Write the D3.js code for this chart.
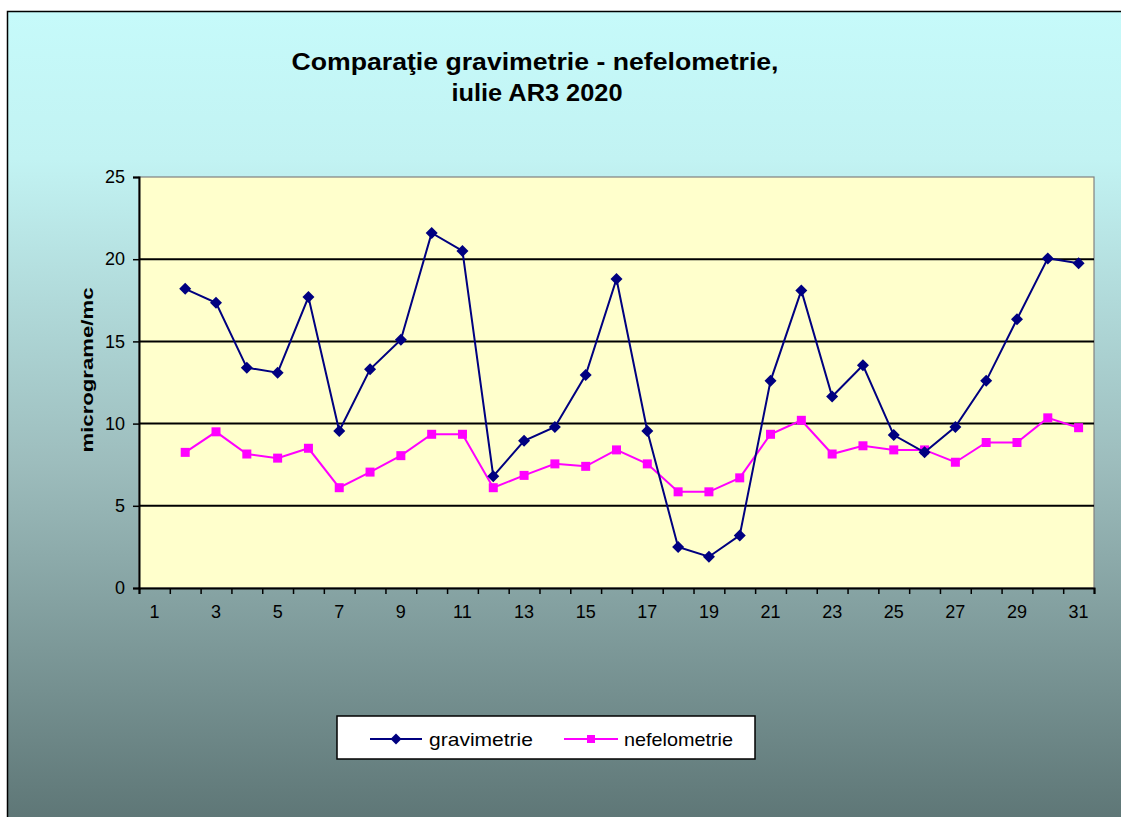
<!DOCTYPE html>
<html><head><meta charset="utf-8">
<script src="https://cdn.jsdelivr.net/npm/d3@7"></script>
<style>body{margin:0;background:#fff}svg{display:block;font-family:"Liberation Sans",Arial,sans-serif}</style>
</head><body><svg id="c" width="1121" height="817"></svg>
<script>
const days = d3.range(1, 32);
const xTickLabels = [1,3,5,7,9,11,13,15,17,19,21,23,25,27,29,31];
const yTicks = [0,5,10,15,20,25];
const gravDays = d3.range(2, 32);
const gravimetrie = [18.2,17.35,13.4,13.1,17.7,9.55,13.3,15.1,21.6,20.5,6.8,8.95,9.8,12.95,18.8,9.55,2.5,1.9,3.2,12.6,18.1,11.65,13.55,9.3,8.25,9.8,12.6,16.35,20.05,19.75];
const nefelometrie = [8.25,9.5,8.15,7.9,8.5,6.1,7.05,8.05,9.35,9.35,6.1,6.85,7.55,7.4,8.4,7.55,5.85,5.85,6.7,9.35,10.2,8.15,8.65,8.4,8.4,7.65,8.85,8.85,10.35,9.75];
const seriesNames = ["gravimetrie","nefelometrie"];
const title1 = "Comparaţie gravimetrie - nefelometrie,";
const title2 = "iulie AR3 2020";
const yLabel = "micrograme/mc";

const svg = d3.select("#c");
const defs = svg.append("defs");
const grad = defs.append("linearGradient").attr("id","bg").attr("x1",0).attr("y1",0).attr("x2",0).attr("y2",1);
grad.append("stop").attr("offset","0%").attr("stop-color","#c6fafa");
grad.append("stop").attr("offset","18%").attr("stop-color","#c2f3f3");
grad.append("stop").attr("offset","55%").attr("stop-color","#9dbdbd");
grad.append("stop").attr("offset","100%").attr("stop-color","#5c7474");

svg.append("rect").attr("x",7.5).attr("y",11.5).attr("width",1125).attr("height",820)
  .attr("fill","url(#bg)").attr("stroke","#000").attr("stroke-width",1.5);

const L=139, R=1094, T=177, B=588;
const x = d3.scaleBand().domain(days).range([L,R]).padding(0);
const xEdge = d3.scaleLinear().domain([0.5,31.5]).range([L,R]);
const y = d3.scaleLinear().domain([0,25]).range([B,T]);

svg.append("rect").attr("x",L).attr("y",T).attr("width",R-L).attr("height",B-T)
  .attr("fill","#ffffcc").attr("stroke","#808080").attr("stroke-width",1.2);

// gridlines
svg.append("g").selectAll("line").data(yTicks.filter(d=>d>0 && d<25)).join("line")
  .attr("x1",L).attr("x2",R).attr("y1",d=>y(d)).attr("y2",d=>y(d))
  .attr("stroke","#000").attr("stroke-width",2);

// y axis
const gy = svg.append("g").attr("transform",`translate(${L},0)`)
  .call(d3.axisLeft(y).tickValues(yTicks).tickSize(6).tickPadding(8));
gy.select(".domain").attr("stroke","#000").attr("stroke-width",2);
gy.selectAll(".tick line").attr("stroke","#000").attr("stroke-width",1.5);
gy.selectAll("text").attr("font-size",18).attr("fill","#000").attr("font-family","Liberation Sans, Arial, sans-serif");

// x axis ticks at category boundaries
const gx = svg.append("g").attr("transform",`translate(0,${B})`)
  .call(d3.axisBottom(xEdge).tickValues(d3.range(0.5,32,1)).tickSize(6).tickFormat(""));
gx.select(".domain").attr("stroke","#000").attr("stroke-width",2);
gx.selectAll(".tick line").attr("stroke","#000").attr("stroke-width",1.5);
// x labels
const gxl = svg.append("g").attr("transform",`translate(0,${B})`)
  .call(d3.axisBottom(x).tickValues(xTickLabels).tickSize(0).tickPadding(17));
gxl.select(".domain").remove();
gxl.selectAll("text").attr("font-size",18).attr("fill","#000").attr("font-family","Liberation Sans, Arial, sans-serif");

const cx = d => x(d) + x.bandwidth()/2;
const line = d3.line().x(d=>cx(d[0])).y(d=>y(d[1]));
const gData = gravDays.map((d,i)=>[d,gravimetrie[i]]);
const nData = gravDays.map((d,i)=>[d,nefelometrie[i]]);

svg.append("path").datum(nData).attr("d",line).attr("fill","none").attr("stroke","#ff00ff").attr("stroke-width",2);
svg.append("g").selectAll("rect").data(nData).join("rect")
  .attr("x",d=>cx(d[0])-4.5).attr("y",d=>y(d[1])-4.5).attr("width",9).attr("height",9).attr("fill","#ff00ff");

svg.append("path").datum(gData).attr("d",line).attr("fill","none").attr("stroke","#000080").attr("stroke-width",2);
const dia = r => `M0,${-r}L${r},0L0,${r}L${-r},0Z`;
svg.append("g").selectAll("path").data(gData).join("path")
  .attr("d",dia(6)).attr("transform",d=>`translate(${cx(d[0])},${y(d[1])})`).attr("fill","#000080");

// title
svg.append("text").attr("x",535).attr("y",70).attr("text-anchor","middle").attr("font-size",23).attr("font-weight","bold")
  .attr("textLength",487).attr("lengthAdjust","spacingAndGlyphs").text(title1);
svg.append("text").attr("x",537).attr("y",101).attr("text-anchor","middle").attr("font-size",23).attr("font-weight","bold")
  .attr("textLength",171).attr("lengthAdjust","spacingAndGlyphs").text(title2);

// y label
svg.append("text").attr("transform","translate(93,370) rotate(-90)").attr("text-anchor","middle")
  .attr("font-size",17).attr("font-weight","bold").attr("textLength",165).attr("lengthAdjust","spacingAndGlyphs").text(yLabel);

// legend
const lg = svg.append("g");
lg.append("rect").attr("x",337).attr("y",716).attr("width",418).attr("height",43).attr("fill","#fff").attr("stroke","#000").attr("stroke-width",1.5);
const ly = 739;
lg.append("line").attr("x1",370).attr("x2",422).attr("y1",ly).attr("y2",ly).attr("stroke","#000080").attr("stroke-width",2);
lg.append("path").attr("d",dia(5.5)).attr("transform",`translate(396,${ly})`).attr("fill","#000080");
lg.append("text").attr("x",429).attr("y",ly+7).attr("font-size",19).attr("textLength",104).attr("lengthAdjust","spacingAndGlyphs").text(seriesNames[0]);
lg.append("line").attr("x1",564).attr("x2",618).attr("y1",ly).attr("y2",ly).attr("stroke","#ff00ff").attr("stroke-width",2);
lg.append("rect").attr("x",587).attr("y",ly-4).attr("width",8).attr("height",8).attr("fill","#ff00ff");
lg.append("text").attr("x",624).attr("y",ly+7).attr("font-size",19).attr("textLength",109).attr("lengthAdjust","spacingAndGlyphs").text(seriesNames[1]);
</script></body></html>
